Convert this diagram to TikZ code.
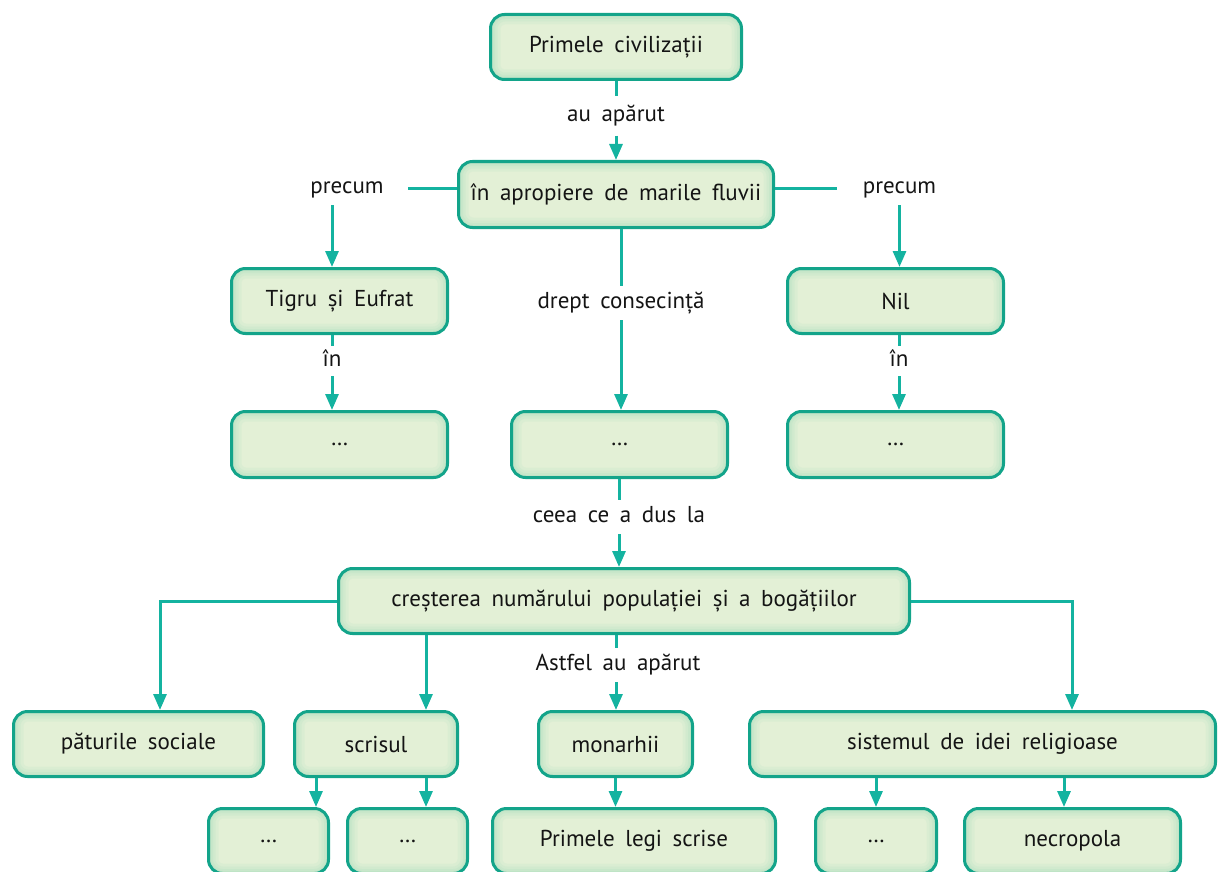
\documentclass[tikz,border=0pt]{standalone}
\usepackage{fontspec}
\setmainfont{PT Sans}
\usetikzlibrary{arrows.meta,calc}
\definecolor{lin}{HTML}{14B3A0}
\definecolor{bord}{HTML}{13A48A}
\definecolor{boxfill}{HTML}{E3F0D6}
\definecolor{glow}{HTML}{A9DDBE}
\newcommand{\dfont}{\fontsize{23}{27}\selectfont\spaceskip=0.46em plus 0.1em\relax}
\newcommand{\glowring}[2]{\draw[glow, line width=#1, opacity=#2, rounded corners=14pt]
       (path picture bounding box.south west) rectangle (path picture bounding box.north east);}
\tikzset{
  txt/.style={font=\dfont, text=black!92},
  cbox/.style={txt, draw=bord, line width=3pt, fill=boxfill, rounded corners=14pt,
    inner sep=0pt,
    path picture={\glowring{20pt}{0.15}\glowring{14pt}{0.18}\glowring{9pt}{0.22}\glowring{5pt}{0.28}}},
  lbl/.style={txt, inner xsep=8pt, inner ysep=6.5pt, text height=16pt, text depth=5pt},
  conn/.style={draw=lin, line width=3pt},
  arr/.style={conn, -{Triangle[length=16pt,width=13pt]}},
}
\begin{document}
\begin{tikzpicture}[x=1pt,y=-1pt]
\useasboundingbox (0,0) rectangle (1218,872);
\clip (0,0) rectangle (1218,872);
% boxes
\node[cbox, minimum width=251pt, minimum height=65pt] (top) at (616,47) {Primele civilizații};
\node[cbox, minimum width=315pt, minimum height=66pt] (fluvii) at (616,194.5) {în apropiere de marile fluvii};
\node[cbox, minimum width=216pt, minimum height=65pt] (tigru) at (339.5,301) {Tigru și Eufrat};
\node[cbox, minimum width=216pt, minimum height=65pt] (nil) at (895.5,301) {Nil};
\node[cbox, minimum width=216pt, minimum height=66pt] (d1) at (339.5,444.5) {…};
\node[cbox, minimum width=216pt, minimum height=66pt] (d2) at (619.5,444.5) {…};
\node[cbox, minimum width=216pt, minimum height=66pt] (d3) at (895.5,444.5) {…};
\node[cbox, minimum width=571pt, minimum height=65pt] (crest) at (624,601) {creșterea numărului populației și a bogățiilor};
\node[cbox, minimum width=250pt, minimum height=65pt] (paturi) at (138.5,744) {păturile sociale};
\node[cbox, minimum width=163pt, minimum height=65pt] (scrisul) at (376,744) {scrisul};
\node[cbox, minimum width=154pt, minimum height=65pt] (monarhii) at (615.5,744) {monarhii};
\node[cbox, minimum width=466pt, minimum height=65pt] (sistem) at (982.5,744) {sistemul de idei religioase};
\node[cbox, minimum width=120pt, minimum height=65pt] (b1) at (268.5,841) {…};
\node[cbox, minimum width=120pt, minimum height=65pt] (b2) at (407.5,841) {…};
\node[cbox, minimum width=283pt, minimum height=65pt] (legi) at (634,841) {Primele legi scrise};
\node[cbox, minimum width=121pt, minimum height=65pt] (b4) at (876,841) {…};
\node[cbox, minimum width=216pt, minimum height=65pt] (necro) at (1072.5,841) {necropola};
% labels
\node[lbl, inner ysep=9pt] (l1) at (616,116) {au apărut};
\node[lbl, inner xsep=24pt] (pl) at (347,188) {precum};
\node[lbl, inner xsep=26pt] (pr) at (899.5,188) {precum};
\node[lbl] (dc) at (621,303) {drept consecință};
\node[lbl, inner ysep=4.5pt] (in1) at (332,361) {în};
\node[lbl, inner ysep=4.5pt] (in2) at (899,361) {în};
\node[lbl] (cd) at (619,517) {ceea ce a dus la};
\node[lbl] (af) at (618,665) {Astfel au apărut};
% connectors
\draw[conn] (top) -- (l1);
\draw[arr] (l1) -- (fluvii);
\draw[conn] (fluvii.west |- pl.east) -- (pl.east);
\draw[conn] (fluvii.east |- pr.west) -- (pr.west);
\draw[arr] ([xshift=-15pt]pl.south) -- ([xshift=-15pt]pl.south |- tigru.north);
\draw[arr] (pr.south) -- (pr.south |- nil.north);
\draw[conn] (dc |- fluvii.south) -- (dc);
\draw[arr] (dc) -- (dc |- d2.north);
\draw[conn] (in1 |- tigru.south) -- (in1);
\draw[arr] (in1) -- (in1 |- d1.north);
\draw[conn] (in2 |- nil.south) -- (in2);
\draw[arr] (in2) -- (in2 |- d3.north);
\draw[conn] (cd |- d2.south) -- (cd);
\draw[arr] (cd) -- (cd |- crest.north);
\draw[arr] (crest.west) -| ([xshift=21.5pt]paturi.north);
\draw[arr] (crest.east) -| ([xshift=89.5pt]sistem.north);
\draw[arr] ([xshift=50pt]scrisul.north |- crest.south) -- ([xshift=50pt]scrisul.north);
\draw[conn] ([xshift=-2pt]af.north |- crest.south) -- ([xshift=-2pt]af.north);
\draw[arr] ([xshift=-2pt]af.south) -- ([xshift=-2pt]af.south |- monarhii.north);
\draw[arr] ([xshift=-60pt]scrisul.south) -- ([xshift=-60pt]scrisul.south |- b1.north);
\draw[arr] ([xshift=50pt]scrisul.south) -- ([xshift=50pt]scrisul.south |- b2.north);
\draw[arr] (monarhii.south) -- (monarhii.south |- legi.north);
\draw[arr] ([xshift=-106.5pt]sistem.south) -- ([xshift=-106.5pt]sistem.south |- b4.north);
\draw[arr] ([xshift=81.5pt]sistem.south) -- ([xshift=81.5pt]sistem.south |- necro.north);
\end{tikzpicture}
\end{document}
